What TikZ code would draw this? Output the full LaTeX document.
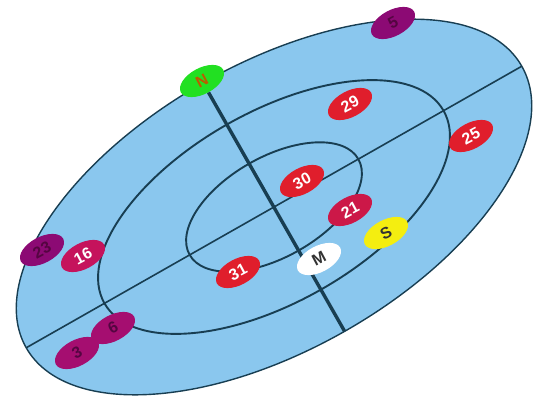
\documentclass[tikz,border=0pt]{standalone}
\usepackage{fontspec}
\setmainfont{Liberation Sans}
\usetikzlibrary{shapes.geometric}
\definecolor{disc}{RGB}{138,199,238}
\definecolor{ink}{RGB}{24,62,82}
\definecolor{redn}{RGB}{224,30,44}
\definecolor{crim}{RGB}{204,24,72}
\definecolor{mag}{RGB}{197,19,92}
\definecolor{purp}{RGB}{140,10,116}
\definecolor{purp2}{RGB}{165,14,112}
\definecolor{purptxt}{RGB}{85,5,65}
\definecolor{greenn}{RGB}{34,224,34}
\definecolor{ntxt}{RGB}{190,90,0}
\definecolor{yel}{RGB}{244,238,16}
\definecolor{dark}{RGB}{50,50,50}
\tikzset{
  tag/.style={ellipse, minimum width=48pt, minimum height=26pt, inner sep=0pt,
    rotate=28, font=\fontsize{16}{16}\selectfont\bfseries},
  redtag/.style={tag, fill=redn, text=white},
  ring/.style={draw=ink, line width=1.9pt},
}
\begin{document}
\begin{tikzpicture}[x=1pt, y=-1pt]
\useasboundingbox (0,0) rectangle (537,403);
\begin{scope}[shift={(274,207)}, rotate=29.6]
  \fill[disc] (0,0) ellipse [x radius=285, y radius=143];
  \draw[draw=ink, line width=1.4pt] (0,0) ellipse [x radius=285, y radius=143];
  \draw[ring] (0,0) ellipse [x radius=195, y radius=95];
  \draw[ring] (0,0) ellipse [x radius=97, y radius=50];
  \coordinate (majL) at (-285,0);
  \coordinate (majR) at (285,0);
  \coordinate (minB) at (0,143);
\end{scope}
\node[tag, fill=greenn, text=ntxt] (N) at (202,81) {N};
\draw[draw=ink, line width=1.6pt] (majL) -- (majR);
\draw[draw=ink, line width=3.4pt] (N) -- (minB);
\node[tag, fill=purp, text=purptxt] (n5) at (393,23) {5};
\node[redtag] (n29) at (350,104) {29};
\node[redtag] (n25) at (471,136) {25};
\node[redtag] (n30) at (302,181) {30};
\node[tag, fill=crim, text=white] (n21) at (350,210) {21};
\node[tag, fill=yel, text=dark] (S) at (386,233) {S};
\node[tag, fill=white, text=dark] (M) at (319,259) {M};
\node[redtag] (n31) at (238,272) {31};
\node[tag, fill=mag, text=white] (n16) at (83,256) {16};
\node[tag, fill=purp, text=purptxt] (n23) at (42,250) {23};
\node[tag, fill=purp2, text=purptxt] (n6) at (113,328) {6};
\node[tag, fill=purp2, text=purptxt] (n3) at (77,353) {3};
\end{tikzpicture}
\end{document}
